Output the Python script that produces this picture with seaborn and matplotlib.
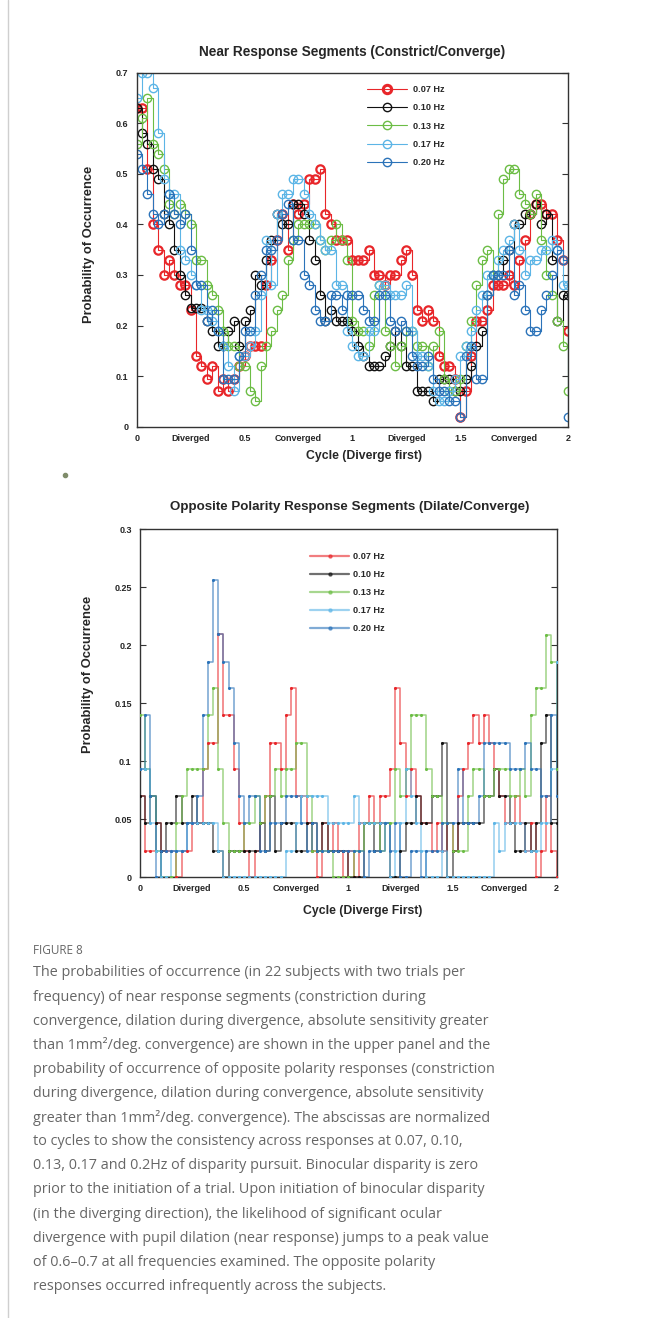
"""Figure 8: probability of near / opposite polarity response segments per cycle."""

import matplotlib

matplotlib.use("Agg")
import matplotlib.pyplot as plt
import numpy as np
import pandas as pd
import seaborn as sns
from matplotlib.lines import Line2D

# shared sampling grid (cycles, diverge first)
cycle = np.linspace(0, 2, 81)

freq_labels = ["0.07 Hz", "0.10 Hz", "0.13 Hz", "0.17 Hz", "0.20 Hz"]
freq_colors = ["#e8262a", "#111111", "#6cbd45", "#5cb5e6", "#2b73b9"]

# upper panel: near response (constrict/converge)
near_007 = [0.63, 0.63, 0.51, 0.40, 0.35, 0.30, 0.33, 0.30, 0.28, 0.28,
            0.23, 0.14, 0.12, 0.095, 0.12, 0.07, 0.095, 0.07, 0.095, 0.12,
            0.14, 0.16, 0.16, 0.16, 0.28, 0.33, 0.37, 0.42, 0.35, 0.44,
            0.42, 0.44, 0.49, 0.49, 0.51, 0.42, 0.40, 0.37, 0.37, 0.37,
            0.33, 0.33, 0.33, 0.35, 0.30, 0.30, 0.28, 0.30, 0.30, 0.33,
            0.35, 0.30, 0.23, 0.21, 0.23, 0.21, 0.14, 0.12, 0.12, 0.095,
            0.02, 0.07, 0.14, 0.21, 0.21, 0.23, 0.28, 0.28, 0.28, 0.30,
            0.28, 0.33, 0.37, 0.42, 0.44, 0.44, 0.42, 0.42, 0.37, 0.33,
            0.19]
near_010 = [0.63, 0.58, 0.56, 0.51, 0.49, 0.42, 0.40, 0.35, 0.30, 0.26,
            0.235, 0.235, 0.235, 0.21, 0.19, 0.16, 0.16, 0.19, 0.21, 0.16,
            0.21, 0.23, 0.30, 0.28, 0.33, 0.37, 0.42, 0.40, 0.40, 0.44,
            0.44, 0.42, 0.37, 0.33, 0.26, 0.21, 0.23, 0.21, 0.21, 0.21,
            0.19, 0.16, 0.14, 0.12, 0.12, 0.12, 0.14, 0.16, 0.19, 0.16,
            0.12, 0.12, 0.07, 0.07, 0.07, 0.05, 0.095, 0.095, 0.095, 0.07,
            0.07, 0.095, 0.12, 0.16, 0.19, 0.26, 0.30, 0.30, 0.33, 0.35,
            0.40, 0.40, 0.42, 0.42, 0.44, 0.40, 0.42, 0.33, 0.21, 0.26,
            0.26]
near_013 = [0.56, 0.61, 0.65, 0.56, 0.54, 0.51, 0.44, 0.42, 0.44, 0.42,
            0.40, 0.33, 0.33, 0.28, 0.26, 0.23, 0.19, 0.16, 0.16, 0.12,
            0.12, 0.07, 0.05, 0.12, 0.16, 0.19, 0.23, 0.26, 0.33, 0.37,
            0.40, 0.40, 0.40, 0.40, 0.37, 0.35, 0.37, 0.40, 0.37, 0.33,
            0.21, 0.19, 0.19, 0.16, 0.26, 0.28, 0.19, 0.16, 0.12, 0.16,
            0.19, 0.19, 0.16, 0.16, 0.12, 0.16, 0.19, 0.095, 0.07, 0.07,
            0.095, 0.16, 0.21, 0.28, 0.33, 0.35, 0.30, 0.42, 0.49, 0.51,
            0.51, 0.46, 0.44, 0.42, 0.46, 0.37, 0.30, 0.26, 0.21, 0.16,
            0.07]
near_017 = [0.65, 0.70, 0.70, 0.67, 0.58, 0.49, 0.46, 0.46, 0.35, 0.33,
            0.30, 0.28, 0.23, 0.23, 0.21, 0.19, 0.16, 0.12, 0.07, 0.14,
            0.14, 0.16, 0.19, 0.26, 0.37, 0.28, 0.42, 0.46, 0.46, 0.49,
            0.49, 0.46, 0.42, 0.40, 0.37, 0.35, 0.35, 0.28, 0.28, 0.19,
            0.16, 0.14, 0.14, 0.19, 0.19, 0.28, 0.28, 0.26, 0.26, 0.26,
            0.28, 0.19, 0.14, 0.14, 0.12, 0.07, 0.05, 0.05, 0.07, 0.095,
            0.14, 0.16, 0.19, 0.23, 0.26, 0.30, 0.30, 0.33, 0.35, 0.37,
            0.40, 0.35, 0.30, 0.33, 0.33, 0.35, 0.35, 0.37, 0.35, 0.28,
            0.28]
near_020 = [0.54, 0.51, 0.46, 0.42, 0.40, 0.42, 0.46, 0.42, 0.40, 0.42,
            0.35, 0.28, 0.28, 0.21, 0.23, 0.19, 0.095, 0.095, 0.095, 0.14,
            0.19, 0.19, 0.26, 0.30, 0.35, 0.35, 0.37, 0.42, 0.44, 0.37,
            0.37, 0.30, 0.28, 0.23, 0.21, 0.21, 0.26, 0.26, 0.23, 0.26,
            0.26, 0.26, 0.23, 0.21, 0.21, 0.26, 0.26, 0.21, 0.19, 0.21,
            0.19, 0.14, 0.12, 0.12, 0.14, 0.095, 0.07, 0.07, 0.05, 0.05,
            0.02, 0.14, 0.16, 0.095, 0.095, 0.26, 0.30, 0.30, 0.30, 0.35,
            0.26, 0.28, 0.23, 0.19, 0.19, 0.23, 0.26, 0.30, 0.35, 0.33,
            0.02]

# lower panel: opposite polarity (dilate/converge)
opp_007 = [0.07, 0.023, 0.023, 0.047, 0.023, 0.023, 0.023, 0.0, 0.023, 0.023,
           0.047, 0.047, 0.093, 0.116, 0.116, 0.21, 0.14, 0.14, 0.093, 0.047,
           0.023, 0.0, 0.023, 0.047, 0.07, 0.116, 0.116, 0.093, 0.14, 0.163,
           0.07, 0.07, 0.047, 0.023, 0.0, 0.047, 0.023, 0.047, 0.023, 0.0,
           0.023, 0.0, 0.047, 0.047, 0.07, 0.047, 0.07, 0.07, 0.093, 0.163,
           0.116, 0.07, 0.093, 0.07, 0.047, 0.047, 0.023, 0.047, 0.023, 0.047,
           0.023, 0.07, 0.093, 0.116, 0.14, 0.116, 0.14, 0.116, 0.093, 0.07,
           0.047, 0.047, 0.07, 0.047, 0.023, 0.047, 0.0, 0.023, 0.07, 0.023,
           0.0]
opp_010 = [0.07, 0.047, 0.07, 0.047, 0.023, 0.047, 0.047, 0.07, 0.047, 0.047,
           0.07, 0.047, 0.047, 0.047, 0.023, 0.023, 0.0, 0.023, 0.023, 0.023,
           0.023, 0.023, 0.023, 0.047, 0.023, 0.07, 0.023, 0.047, 0.047, 0.047,
           0.023, 0.023, 0.047, 0.047, 0.023, 0.047, 0.023, 0.023, 0.023, 0.023,
           0.0, 0.0, 0.0, 0.047, 0.047, 0.023, 0.047, 0.047, 0.0, 0.0,
           0.023, 0.047, 0.047, 0.07, 0.047, 0.047, 0.07, 0.07, 0.116, 0.0,
           0.023, 0.047, 0.047, 0.047, 0.047, 0.047, 0.07, 0.07, 0.093, 0.07,
           0.07, 0.047, 0.023, 0.023, 0.047, 0.023, 0.047, 0.116, 0.14, 0.047,
           0.047]
opp_013 = [0.14, 0.093, 0.07, 0.023, 0.0, 0.0, 0.0, 0.047, 0.07, 0.093,
           0.093, 0.093, 0.093, 0.14, 0.163, 0.093, 0.047, 0.023, 0.023, 0.023,
           0.047, 0.047, 0.07, 0.047, 0.07, 0.07, 0.093, 0.07, 0.093, 0.093,
           0.116, 0.116, 0.07, 0.023, 0.023, 0.023, 0.023, 0.0, 0.0, 0.0,
           0.0, 0.023, 0.023, 0.047, 0.047, 0.047, 0.023, 0.047, 0.047, 0.093,
           0.07, 0.093, 0.14, 0.14, 0.14, 0.093, 0.07, 0.07, 0.047, 0.047,
           0.023, 0.023, 0.023, 0.07, 0.093, 0.093, 0.07, 0.07, 0.093, 0.093,
           0.093, 0.07, 0.07, 0.093, 0.07, 0.14, 0.163, 0.163, 0.209, 0.186,
           0.093]
opp_017 = [0.093, 0.093, 0.047, 0.023, 0.0, 0.0, 0.023, 0.023, 0.023, 0.047,
           0.047, 0.047, 0.047, 0.047, 0.047, 0.023, 0.0, 0.0, 0.0, 0.0,
           0.0, 0.0, 0.0, 0.0, 0.0, 0.0, 0.0, 0.0, 0.023, 0.023,
           0.047, 0.07, 0.07, 0.07, 0.07, 0.07, 0.047, 0.047, 0.047, 0.047,
           0.047, 0.07, 0.047, 0.047, 0.047, 0.047, 0.047, 0.047, 0.0, 0.023,
           0.047, 0.093, 0.07, 0.047, 0.023, 0.0, 0.0, 0.0, 0.023, 0.0,
           0.0, 0.0, 0.0, 0.0, 0.0, 0.0, 0.0, 0.0, 0.047, 0.023,
           0.047, 0.047, 0.047, 0.047, 0.023, 0.023, 0.023, 0.047, 0.047, 0.093,
           0.186]
opp_020 = [0.093, 0.14, 0.07, 0.0, 0.023, 0.023, 0.023, 0.023, 0.023, 0.047,
           0.047, 0.07, 0.14, 0.186, 0.256, 0.21, 0.186, 0.163, 0.116, 0.07,
           0.047, 0.07, 0.07, 0.023, 0.023, 0.047, 0.047, 0.047, 0.07, 0.07,
           0.07, 0.047, 0.023, 0.047, 0.023, 0.023, 0.023, 0.023, 0.023, 0.023,
           0.023, 0.023, 0.023, 0.0, 0.023, 0.023, 0.023, 0.047, 0.023, 0.047,
           0.0, 0.0, 0.023, 0.023, 0.0, 0.023, 0.023, 0.023, 0.047, 0.047,
           0.047, 0.093, 0.047, 0.047, 0.047, 0.07, 0.116, 0.116, 0.116, 0.116,
           0.116, 0.093, 0.093, 0.093, 0.116, 0.093, 0.093, 0.07, 0.07, 0.14,
           0.07]

near_series = [near_007, near_010, near_013, near_017, near_020]
opp_series = [opp_007, opp_010, opp_013, opp_017, opp_020]

xtick_pos = [0, 0.25, 0.5, 0.75, 1, 1.25, 1.5, 1.75, 2]
xtick_labels = ["0", "Diverged", "0.5", "Converged", "1", "Diverged", "1.5", "Converged", "2"]

caption_lines = [
    "The probabilities of occurrence (in 22 subjects with two trials per",
    "frequency) of near response segments (constriction during",
    "convergence, dilation during divergence, absolute sensitivity greater",
    "than 1mm\u00b2/deg. convergence) are shown in the upper panel and the",
    "probability of occurrence of opposite polarity responses (constriction",
    "during divergence, dilation during convergence, absolute sensitivity",
    "greater than 1mm\u00b2/deg. convergence). The abscissas are normalized",
    "to cycles to show the consistency across responses at 0.07, 0.10,",
    "0.13, 0.17 and 0.2Hz of disparity pursuit. Binocular disparity is zero",
    "prior to the initiation of a trial. Upon initiation of binocular disparity",
    "(in the diverging direction), the likelihood of significant ocular",
    "divergence with pupil dilation (near response) jumps to a peak value",
    "of 0.6\u20130.7 at all frequencies examined. The opposite polarity",
    "responses occurred infrequently across the subjects.",
]

sns.set_style("white")
plt.rcParams["font.family"] = ["Liberation Sans", "DejaVu Sans"]
plt.rcParams["axes.edgecolor"] = "#333333"

W, H = 646, 1318
fig = plt.figure(figsize=(W / 100, H / 100), dpi=100)


def style_axes(ax, ymax, ystep, yfmt):
    ax.set_xlim(0, 2)
    ax.set_ylim(0, ymax)
    ax.set_xticks(xtick_pos)
    ax.set_xticklabels(xtick_labels)
    ax.set_xticks([0.25, 0.75, 1.25, 1.75], minor=True)
    yt = np.arange(0, ymax + ystep / 2, ystep)
    ax.set_yticks(yt)
    ax.set_yticklabels([yfmt(v) for v in yt])
    ax.tick_params(axis="x", which="major", length=0, pad=5, labelsize=6.5)
    ax.tick_params(axis="x", which="minor", direction="in", length=4,
                   top=True, bottom=True, color="#333333")
    ax.tick_params(axis="y", direction="in", length=4, left=True, right=True,
                   pad=6, labelsize=6.5, color="#333333")
    for lab in ax.get_xticklabels() + ax.get_yticklabels():
        lab.set_fontweight("bold")
    for sp in ax.spines.values():
        sp.set_linewidth(1.0)


def fmt_top(v):
    return "0" if v == 0 else f"{v:.1f}"


def fmt_bottom(v):
    return "0" if v == 0 else f"{v:g}"


# ---- upper panel ----
ax1 = fig.add_axes([136.7 / W, 1 - 426.7 / H, 431.3 / W, 354 / H])
for lab, col, vals in zip(freq_labels, freq_colors, near_series):
    df = pd.DataFrame({"cycle": cycle, "prob": vals})
    sns.lineplot(data=df, x="cycle", y="prob", ax=ax1, color=col, lw=0.8,
                 drawstyle="steps-post", marker="o", markersize=6,
                 markerfacecolor="none", markeredgecolor=col,
                 markeredgewidth=1.6 if lab == "0.07 Hz" else 1.0,
                 label=lab, legend=False)
style_axes(ax1, 0.7, 0.1, fmt_top)
ax1.set_xlabel("Cycle (Diverge first)", fontsize=8.8, fontweight="bold")
ax1.set_ylabel("Probability of Occurrence", fontsize=9.3, fontweight="bold")
ax1.xaxis.set_label_coords(0.527, -0.066)
ax1.yaxis.set_label_coords(-0.097, 0.516)
fig.text(351.7 / W, 1 - 52 / H, "Near Response Segments (Constrict/Converge)",
         ha="center", va="center", fontsize=9.8, fontweight="bold")

h1 = [Line2D([], [], color=c, lw=0.8, marker="o", markersize=6,
             markerfacecolor="none", markeredgecolor=c,
             markeredgewidth=2.2 if i == 0 else 1.0)
      for i, c in enumerate(freq_colors)]
ax1.legend(h1, freq_labels, loc="upper left", bbox_to_anchor=(0.525, 0.975),
           frameon=False, handlelength=4.4, handletextpad=0.6,
           labelspacing=1.0, borderaxespad=0,
           prop={"size": 6.6, "weight": "bold"})

# ---- lower panel ----
ax2 = fig.add_axes([140 / W, 1 - 877.3 / H, 416.7 / W, 348 / H])
for lab, col, vals in zip(freq_labels, freq_colors, opp_series):
    df = pd.DataFrame({"cycle": cycle, "prob": vals})
    sns.lineplot(data=df, x="cycle", y="prob", ax=ax2, color=col, lw=1.1,
                 alpha=0.65, drawstyle="steps-post", legend=False)
    sns.scatterplot(data=df, x="cycle", y="prob", ax=ax2, color=col, s=5,
                    linewidth=0, legend=False, zorder=3)
style_axes(ax2, 0.3, 0.05, fmt_bottom)
ax2.set_xlabel("Cycle (Diverge First)", fontsize=8.8, fontweight="bold")
ax2.set_ylabel("Probability of Occurrence", fontsize=9.3, fontweight="bold")
ax2.xaxis.set_label_coords(0.534, -0.080)
ax2.yaxis.set_label_coords(-0.110, 0.584)
fig.text(350 / W, 1 - 506.7 / H, "Opposite Polarity Response Segments (Dilate/Converge)",
         ha="center", va="center", fontsize=9.6, fontweight="bold")

h2 = [Line2D([], [], color=c, lw=1.6, alpha=0.6, marker="o", markersize=2.2,
             markerfacecolor=c, markeredgecolor=c)
      for c in freq_colors]
ax2.legend(h2, freq_labels, loc="upper left", bbox_to_anchor=(0.40, 0.945),
           frameon=False, handlelength=4.2, handletextpad=0.4,
           labelspacing=0.98, borderaxespad=0,
           prop={"size": 6.6, "weight": "bold"})

# ---- page furniture: bullet, left rule, caption ----
fig.add_artist(Line2D([65 / W], [1 - 475 / H], marker="o", markersize=3,
                      color="#7f8c6a", transform=fig.transFigure))
fig.add_artist(Line2D([8 / W, 8 / W], [0, 1], color="#cfcfcf", lw=1,
                      transform=fig.transFigure))
fig.text(33 / W, 1 - 951 / H, "FIGURE 8", ha="left", va="center",
         fontsize=8.5, color="#666666", family=["Open Sans", "DejaVu Sans"])
for i, line in enumerate(caption_lines):
    fig.text(33 / W, 1 - (973 + 24.1 * i) / H, line, ha="left", va="center",
             fontsize=10.4, color="#666666", family=["Open Sans", "DejaVu Sans"])

fig.savefig("out.png", dpi=100, facecolor="white")
